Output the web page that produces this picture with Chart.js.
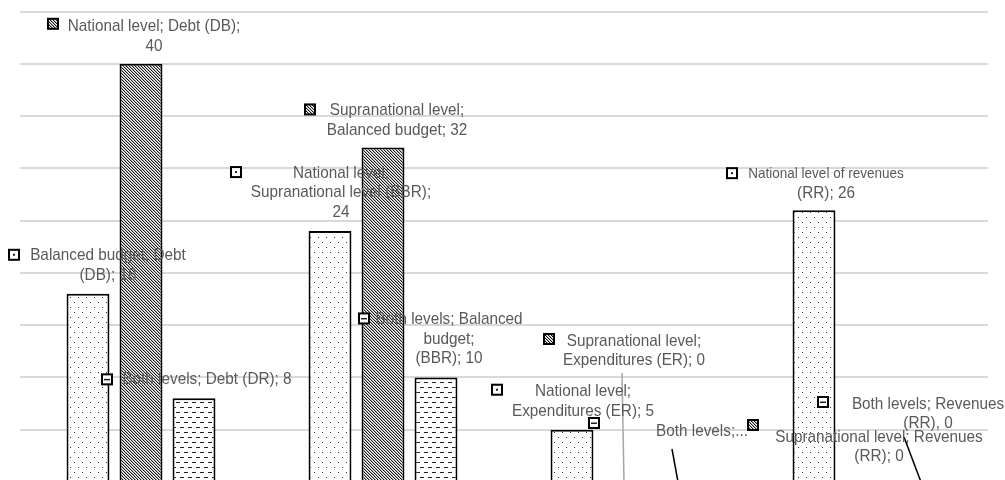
<!DOCTYPE html>
<html>
<head>
<meta charset="utf-8">
<script src="https://cdn.jsdelivr.net/npm/chart.js"></script>
<style>
  html, body { margin: 0; padding: 0; background: #fff; overflow: hidden; }
  #chart { display: block; }
</style>
</head>
<body>
<canvas id="chart" width="1005" height="482"></canvas>
<script>
// data
const categories = ["Debt", "Balanced budget", "Expenditures", "Revenues"];
const seriesNames = ["National level", "Supranational level", "Both levels"];
const nationalLevel = [18, 24, 5, 26];
const supranationalLevel = [40, 32, 0, 0];
const bothLevels = [8, 10, 0, 0];
const yMax = 46.1;
const yStep = 5;

// label texts as they stand in the chart, {v} = the bar value
const nationalLabels = [
  "Balanced budget; Debt\n(DB); {v}",
  "National level;\nSupranational level (BBR);\n{v}",
  "National level;\nExpenditures (ER); {v}",
  "National level of revenues\n(RR); {v}"
];
const supranationalLabels = [
  "National level; Debt (DB);\n{v}",
  "Supranational level;\nBalanced budget; {v}",
  "Supranational level;\nExpenditures (ER); {v}",
  "Supranational level; Revenues\n(RR); {v}"
];
const bothLabels = [
  "Both levels; Debt (DR); {v}",
  "Both levels; Balanced\nbudget;\n(BBR); {v}",
  "Both levels;...",
  "Both levels; Revenues\n(RR), {v}"
];

// where each label sits, relative to the top centre of its bar
// k = key square offset, t = text offset (first line centre), lead = leader line
const labelLayout = [
  [
    { k: [-74, -39], t: [20, -38] },
    { k: [-94, -59], t: [11, -58] },
    { k: [-75, -40], t: [11, -38] },
    { k: [-82, -37], t: [12, -36], firstSize: 15 }
  ],
  [
    { k: [-88, -40], t: [13, -37] },
    { k: [-73, -38], t: [14, -37] },
    { k: [-76, -143], t: [9, -141], lead: [-3, -109, -1, 0], leadColor: "#a6a6a6" },
    { k: [-114, -57], t: [12, -45] }
  ],
  [
    { k: [-87, -19], t: [13, -19] },
    { k: [-72, -59], t: [13, -58] },
    { k: [-84, -59], t: [24, -51], lead: [-6, -33, 0, 0], leadColor: "#000" },
    { k: [-97, -80], t: [8, -78], lead: [-16, -45, 1, 0], leadColor: "#000" }
  ]
];

function makePattern(kind) {
  const c = document.createElement("canvas");
  const g = c.getContext("2d");
  if (kind === "dots") {
    c.width = 8; c.height = 10;
    g.fillStyle = "#fff"; g.fillRect(0, 0, 8, 10);
    g.fillStyle = "#333";
    g.fillRect(2, 2, 1, 1);
    g.fillRect(6, 7, 1, 1);
  } else if (kind === "hatch") {
    c.width = 3; c.height = 3;
    g.fillStyle = "#fff"; g.fillRect(0, 0, 3, 3);
    for (let i = 0; i < 3; i++) {
      g.fillStyle = "#1a1a1a";
      g.fillRect(i, i, 1, 1);
      g.fillStyle = "#b0b0b0";
      g.fillRect((i + 1) % 3, i, 1, 1);
    }
  } else {
    c.width = 8; c.height = 10;
    g.fillStyle = "#fff"; g.fillRect(0, 0, 8, 10);
    g.fillStyle = "#222";
    g.fillRect(0, 2, 4, 1);
    g.fillRect(4, 7, 4, 1);
  }
  return g.createPattern(c, "repeat");
}

const ctx = document.getElementById("chart").getContext("2d");
const patterns = [makePattern("dots"), makePattern("hatch"), makePattern("dashes")];
const labelTexts = [nationalLabels, supranationalLabels, bothLabels];

function drawText(c, s, x, y, size) {
  c.save();
  c.translate(x, y);
  c.scale(0.9, 1);
  c.font = size + 'px "Liberation Sans", Arial, sans-serif';
  c.textAlign = "center";
  c.textBaseline = "middle";
  c.fillStyle = "#595959";
  c.fillText(s, 0, 0);
  c.restore();
}

function drawKey(c, series, x, y) {
  const s = 10;
  c.save();
  c.fillStyle = series === 1 ? patterns[1] : "#fff";
  c.fillRect(x - s / 2, y - s / 2, s, s);
  c.fillStyle = "#222";
  if (series === 0) c.fillRect(x - 1, y - 1, 2, 2);
  if (series === 2) c.fillRect(x - 3, y - 0.5, 6, 1.5);
  c.lineWidth = 2;
  c.strokeStyle = "#000";
  c.strokeRect(x - s / 2, y - s / 2, s, s);
  c.restore();
}

const labelPlugin = {
  id: "barLabels",
  afterDatasetsDraw(chart) {
    const c = chart.ctx;
    // leader lines under the texts
    chart.data.datasets.forEach((ds, di) => {
      chart.getDatasetMeta(di).data.forEach((bar, i) => {
        const lay = labelLayout[di][i];
        if (!lay.lead) return;
        c.save();
        c.strokeStyle = lay.leadColor;
        c.lineWidth = 1.5;
        c.beginPath();
        c.moveTo(bar.x + lay.lead[0], bar.y + lay.lead[1]);
        c.lineTo(bar.x + lay.lead[2], bar.y + lay.lead[3]);
        c.stroke();
        c.restore();
      });
    });
    chart.data.datasets.forEach((ds, di) => {
      chart.getDatasetMeta(di).data.forEach((bar, i) => {
        const lay = labelLayout[di][i];
        const lines = labelTexts[di][i].replace("{v}", ds.data[i]).split("\n");
        drawKey(c, di, bar.x + lay.k[0], bar.y + lay.k[1]);
        lines.forEach((ln, li) => {
          const size = li === 0 && lay.firstSize ? lay.firstSize : 17;
          drawText(c, ln, bar.x + lay.t[0], bar.y + lay.t[1] + li * 19.5, size);
        });
      });
    });
  }
};

const chart = new Chart(ctx, {
  type: "bar",
  data: {
    labels: categories,
    datasets: [
      { label: seriesNames[0], data: nationalLevel, backgroundColor: patterns[0] },
      { label: seriesNames[1], data: supranationalLevel, backgroundColor: patterns[1] },
      { label: seriesNames[2], data: bothLevels, backgroundColor: patterns[2] }
    ].map((d) => Object.assign(d, {
      borderColor: "#000",
      borderWidth: 2,
      categoryPercentage: 0.657,
      barPercentage: 0.81
    }))
  },
  options: {
    responsive: false,
    animation: false,
    devicePixelRatio: 1,
    layout: { padding: { left: 20, right: 17, top: 0, bottom: 0 } },
    plugins: { legend: { display: false }, tooltip: { enabled: false } },
    scales: {
      x: { display: false },
      y: {
        min: 0,
        max: yMax,
        border: { display: false },
        ticks: { display: false, stepSize: yStep, includeBounds: false },
        grid: { color: "#d9d9d9", lineWidth: 2, drawTicks: false }
      }
    }
  },
  plugins: [labelPlugin]
});
</script>
</body>
</html>
